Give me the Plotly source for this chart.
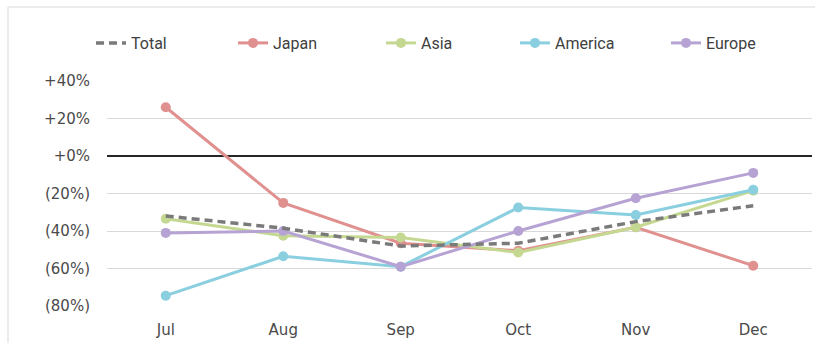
import plotly.graph_objects as go

months = ["Jul", "Aug", "Sep", "Oct", "Nov", "Dec"]
total = [-32, -38.5, -48, -46.5, -35, -26.5]
japan = [26, -25, -46.5, -50.5, -38, -58.5]
asia = [-33.5, -42.5, -43.5, -51.5, -38, -18.5]
america = [-74.5, -53.5, -59, -27.5, -31.5, -18]
europe = [-41, -40, -59, -40, -22.5, -9]

ytick_vals = [40, 20, 0, -20, -40, -60, -80]
ytick_text = ["+40%", "+20%", "+0%", "(20%)", "(40%)", "(60%)", "(80%)"]

colors = {
    "Total": "#7a7a7a",
    "Japan": "#e0918f",
    "Asia": "#c5d891",
    "America": "#89cfe0",
    "Europe": "#b6a3d3",
}

# plot area in px
L, R, T, B = 107, 812, 81, 306
W, H = 815, 343

def px_x(p):
    return (p - L) / (R - L)

def px_y(p):
    return (B - p) / (B - T)

fig = go.Figure()

series = [("Japan", japan), ("Asia", asia), ("America", america), ("Europe", europe)]
legend_ids = {"Total": "legend", "Japan": "legend2", "Asia": "legend3", "America": "legend4", "Europe": "legend5"}

for name, vals in series:
    fig.add_trace(go.Scatter(
        x=months, y=vals, name=name, mode="lines+markers",
        line=dict(color=colors[name], width=3),
        marker=dict(color=colors[name], size=10),
        legend=legend_ids[name], hoverinfo="skip",
    ))

fig.add_trace(go.Scatter(
    x=months, y=total, name="Total", mode="lines",
    line=dict(color=colors["Total"], width=3.5, dash="8px,5px"),
    legend="legend", hoverinfo="skip",
))

# legend positions (text start px)
text_start = {"Total": 131, "Japan": 273, "Asia": 421, "America": 555, "Europe": 706}
leg_font = dict(family="Roboto", size=16, color="#404040")
layout_legends = {}
for name, lid in legend_ids.items():
    layout_legends[lid] = dict(
        x=px_x(text_start[name] - 40), xanchor="left",
        y=px_y(43), yanchor="middle",
        orientation="h", font=leg_font, bgcolor="rgba(0,0,0,0)",
        borderwidth=0, itemclick=False,
    )

tick_font = dict(family="DejaVu Sans", size=15, color="#4a4a4a")

fig.update_layout(
    width=W, height=H,
    margin=dict(l=L, r=W - R, t=T, b=H - B),
    plot_bgcolor="white", paper_bgcolor="white",
    font=dict(family="DejaVu Sans", size=15, color="#404040"),
    showlegend=True,
    **layout_legends,
)

fig.update_xaxes(
    type="category", range=[-0.5, 5.5], showgrid=False, zeroline=False,
    showline=False, ticks="", ticklabelstandoff=13,
    tickfont=tick_font,
)
fig.update_yaxes(
    range=[-80, 40], tickvals=ytick_vals, ticktext=ytick_text,
    showgrid=True, gridcolor="#d9d9d9", gridwidth=1,
    zeroline=True, zerolinecolor="#262626", zerolinewidth=2,
    showline=False, ticks="", ticklabelstandoff=16,
    tickfont=tick_font,
)

# chart-area border (top and left visible)
fig.add_shape(type="rect", xref="paper", yref="paper",
              x0=px_x(8), x1=px_x(W + 20), y0=px_y(H + 20), y1=px_y(7),
              line=dict(color="#d9d9d9", width=1), fillcolor="rgba(0,0,0,0)",
              layer="below")

fig.write_html("out.html")
